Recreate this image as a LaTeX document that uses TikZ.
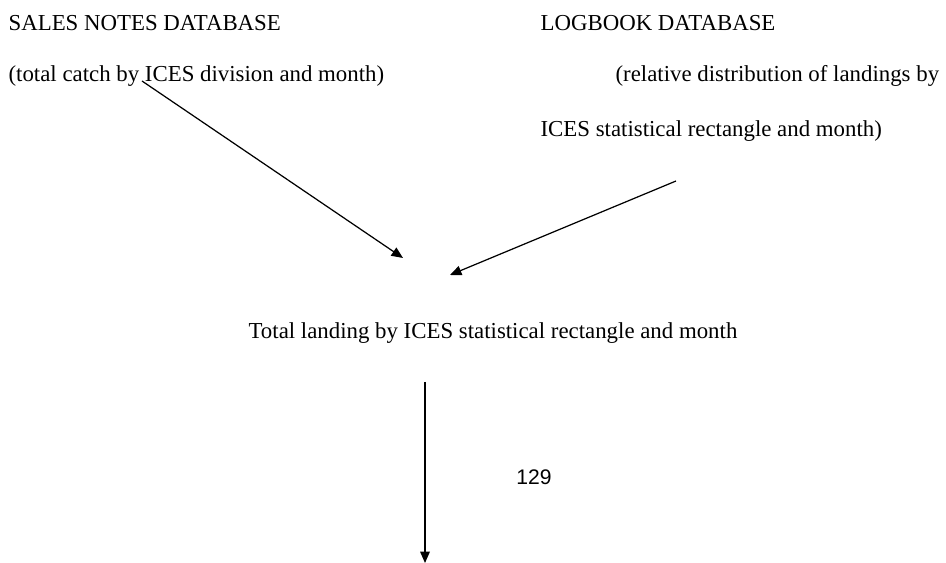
\documentclass[tikz,border=0pt]{standalone}
\usepackage{fontspec}
\setmainfont{Liberation Serif}
\newfontfamily\pagefont{Liberation Sans}
\usetikzlibrary{arrows.meta}

\begin{document}
\begin{tikzpicture}[x=0.02cm,y=-0.02cm,line width=0.7pt,>={Triangle[length=6.5pt,width=5.5pt]},
  every node/.style={inner sep=0pt,font=\fontsize{13}{15}\selectfont}]
\useasboundingbox (0,0) rectangle (946,563);
% ---------- sources ----------
\node[anchor=base west] (sales) at (8,31) {SALES NOTES DATABASE};
\node[anchor=base west] (salesnote) at (8,82) {(total catch by ICES division and month)};
\node[anchor=base west] (logbook) at (540,31) {LOGBOOK DATABASE};
\node[anchor=base west] (lognote) at (615,82) {(relative distribution of landings by};
\node[anchor=base west] (lognotetwo) at (540,137) {ICES statistical rectangle and month)};
% ---------- result ----------
\node[anchor=base west] (total) at (248,339) {Total landing by ICES statistical rectangle and month};
\node[font=\pagefont\fontsize{12}{14}\selectfont] (page) at (534,477) {129};
% ---------- arrows ----------
\coordinate (salesfrom) at (142,81);
\coordinate (salesto) at (403,258);
\coordinate (logfrom) at (676,181);
\coordinate (logto) at (450,275);
\coordinate (totalfrom) at (425,382);
\coordinate (totalto) at (425,563);
\draw[->] (salesfrom) -- (salesto);
\draw[->] (logfrom) -- (logto);
\draw[->] (totalfrom) -- (totalto);
\end{tikzpicture}
\end{document}
